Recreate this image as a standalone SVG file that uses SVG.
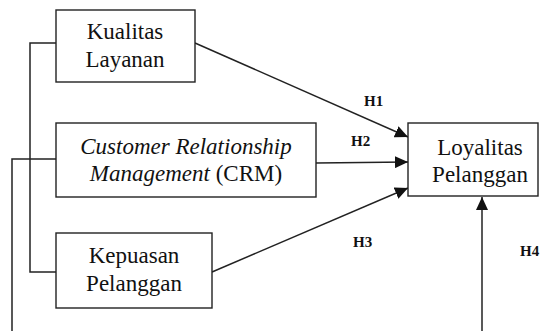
<svg xmlns="http://www.w3.org/2000/svg" width="540" height="331" viewBox="0 0 540 331">
<defs>
<style>
.box{fill:#fff;stroke:#222;stroke-width:1.4}
text{font-family:'Liberation Serif','Times New Roman',serif}
.t{font-size:23px;fill:#111;text-anchor:middle}
.i{font-style:italic}
.h{font-size:15px;font-weight:bold;fill:#111}
.c{fill:none;stroke:#222;stroke-width:1.5}
</style>
<marker id="ah" markerUnits="userSpaceOnUse" markerWidth="14" markerHeight="12" refX="13" refY="6" orient="auto">
<path d="M0,0 L13,6 L0,12 z" fill="#111"/>
</marker>
</defs>
<rect width="540" height="331" fill="#fff"/>
<g id="connectors">
<polyline class="c" points="56,43 30,43 30,272 56,272"/>
<polyline class="c" points="56,159 12,159 12,331"/>
<line class="c" x1="195" y1="43" x2="408" y2="137" marker-end="url(#ah)"/>
<line class="c" x1="316" y1="163" x2="408" y2="162" marker-end="url(#ah)"/>
<line class="c" x1="212" y1="272" x2="408" y2="188" marker-end="url(#ah)"/>
<line class="c" x1="482" y1="331" x2="482" y2="197" marker-end="url(#ah)"/>
<text class="h" x="364" y="106">H1</text>
<text class="h" x="351" y="146">H2</text>
<text class="h" x="353" y="247">H3</text>
<text class="h" x="520" y="256">H4</text>
</g>
<g id="kualitas">
<rect class="box" x="56" y="10" width="139" height="72"/>
<text class="t" x="125" y="39">Kualitas</text>
<text class="t" x="125" y="67">Layanan</text>
</g>
<g id="crm">
<rect class="box" x="56" y="123" width="260" height="74"/>
<text class="t i" x="186" y="154">Customer Relationship</text>
<text class="t" x="186" y="181"><tspan class="i">Management</tspan> (CRM)</text>
</g>
<g id="kepuasan">
<rect class="box" x="56" y="233" width="156" height="75"/>
<text class="t" x="134" y="263">Kepuasan</text>
<text class="t" x="134" y="291">Pelanggan</text>
</g>
<g id="loyalitas">
<rect class="box" x="408" y="123" width="130" height="73"/>
<text class="t" x="480" y="155">Loyalitas</text>
<text class="t" x="480" y="182">Pelanggan</text>
</g>
</svg>
